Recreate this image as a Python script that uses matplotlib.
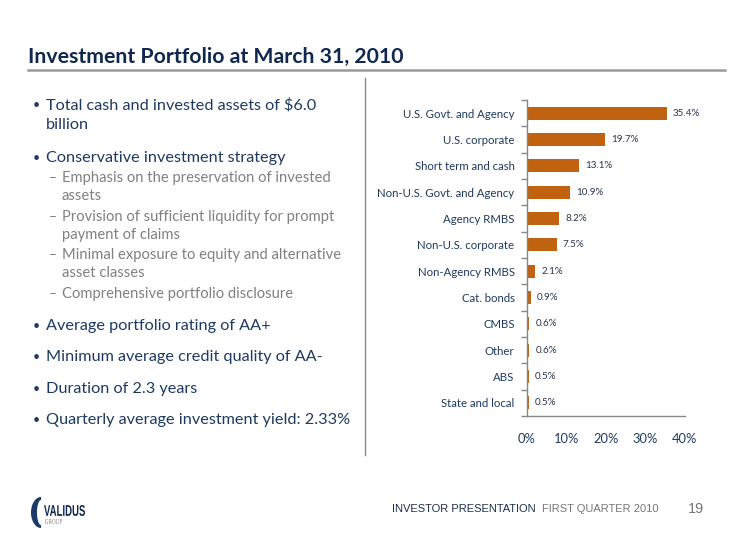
import numpy as np
import matplotlib
matplotlib.use("Agg")
import matplotlib.pyplot as plt
from matplotlib.patches import Polygon, PathPatch
from matplotlib.textpath import TextPath
from matplotlib.font_manager import FontProperties
from matplotlib.transforms import Affine2D

# chart data
categories = ["U.S. Govt. and Agency", "U.S. corporate", "Short term and cash",
              "Non-U.S. Govt. and Agency", "Agency RMBS", "Non-U.S. corporate",
              "Non-Agency RMBS", "Cat. bonds", "CMBS", "Other", "ABS", "State and local"]
shares = [35.4, 19.7, 13.1, 10.9, 8.2, 7.5, 2.1, 0.9, 0.6, 0.6, 0.5, 0.5]
x_ticks = [0, 10, 20, 30, 40]

title = "Investment Portfolio at March 31, 2010"
main_lines = [
    (105, "•", "Total cash and invested assets of $6.0"),
    (125, "", "billion"),
    (158, "•", "Conservative investment strategy"),
    (326, "•", "Average portfolio rating of AA+"),
    (357, "•", "Minimum average credit quality of AA-"),
    (389, "•", "Duration of 2.3 years"),
    (420, "•", "Quarterly average investment yield: 2.33%"),
]
sub_lines = [
    (178, "–", "Emphasis on the preservation of invested"),
    (196, "", "assets"),
    (217, "–", "Provision of sufficient liquidity for prompt"),
    (235, "", "payment of claims"),
    (255, "–", "Minimal exposure to equity and alternative"),
    (273, "", "asset classes"),
    (294, "–", "Comprehensive portfolio disclosure"),
]

W, H = 750, 538
navy = "#10284F"
text_navy = "#1F3A60"
grey = "#808080"
bar_col = "#C0620F"
font = "Lato"


def px(x, y):
    return x / W, 1 - y / H


fig = plt.figure(figsize=(W / 100, H / 100), dpi=100)
fig.patch.set_facecolor("white")
pix = Affine2D().scale(1 / W, 1 / H) + fig.transFigure

# title and rule
fig.text(*px(28, 57), title, fontsize=15.3, fontweight="bold", color=navy,
         family=font, va="center", ha="left")
fig.add_artist(plt.Line2D([28 / W, 725 / W], [1 - 70 / H] * 2, color="#9A9A9A", lw=1.8))

# vertical divider
fig.add_artist(plt.Line2D([365 / W] * 2, [1 - 78 / H, 1 - 455 / H], color="#8A8A8A", lw=1.0))

# left-hand text
for y, mark, txt in main_lines:
    if mark:
        fig.text(*px(33, y), mark, fontsize=9, color=text_navy, family=font, va="center")
    fig.text(*px(46, y), txt, fontsize=11.7, color=text_navy, family=font, va="center")
for y, mark, txt in sub_lines:
    if mark:
        fig.text(*px(49, y), mark, fontsize=10, color=grey, family=font, va="center")
    fig.text(*px(62, y), txt, fontsize=10.6, color=grey, family=font, va="center")

# bar chart
ax = fig.add_axes([527 / W, 1 - 416 / H, (685 - 527) / W, (416 - 100) / H])
y = np.arange(len(categories))
ax.barh(y, shares, height=0.5, color=bar_col)
ax.set_ylim(len(categories) - 0.5, -0.5)
ax.set_xlim(0, 40)
ax.set_yticks(y)
ax.set_yticklabels(categories, family=font, fontsize=8.2, color=text_navy)
ax.set_yticks(np.arange(len(categories) + 1) - 0.5, minor=True)
ax.tick_params(axis="y", which="major", length=0, pad=9)
ax.tick_params(axis="y", which="minor", length=4, color="#888888", width=1)
ax.set_xticks(x_ticks)
ax.set_xticklabels([f"{t}%" for t in x_ticks], family=font, fontsize=9.3, color=text_navy)
ax.tick_params(axis="x", length=0, pad=12)
for s in ["top", "right"]:
    ax.spines[s].set_visible(False)
for s in ["left", "bottom"]:
    ax.spines[s].set_color("#888888")
    ax.spines[s].set_linewidth(1)

for yi, v in zip(y, shares):
    ax.annotate(f"{v:.1f}%", (v, yi), xytext=(4.5, 0), textcoords="offset points",
                va="center", ha="left", fontsize=7.1, color="#2A3550", family=font)

# footer logo: swoosh
t = np.linspace(0, np.pi, 40)
outer = np.column_stack([41 - 10 * np.sin(t), 497 + 31 * (1 - np.cos(t)) / 2])
inner = np.column_stack([41 - 4 * np.sin(t[::-1]), 500 + 25 * (1 - np.cos(t[::-1])) / 2])
fig.add_artist(Polygon(np.vstack([outer, inner]) * [1, -1] + [0, H], closed=True,
                       transform=pix, facecolor="#1B3A6B", edgecolor="none"))


def boxed_text(s, x0, y0, x1, y1, color, family, weight="normal"):
    tp = TextPath((0, 0), s, size=10, prop=FontProperties(family=family, weight=weight))
    e = tp.get_extents()
    tr = (Affine2D().translate(-e.x0, -e.y0)
          .scale((x1 - x0) / e.width, (y1 - y0) / e.height)
          .translate(x0, H - y1)) + pix
    fig.add_artist(PathPatch(tp, transform=tr, facecolor=color, edgecolor="none"))


boxed_text("VALIDUS", 44, 505, 85, 516, navy, "Liberation Sans", "bold")
boxed_text("GROUP", 45, 519, 62, 524, grey, "Liberation Serif")

# footer text
fig.text(*px(392, 509), "INVESTOR PRESENTATION", fontsize=8, color="#1F2F4F",
         family="Liberation Sans", va="center")
fig.text(*px(542, 509), "FIRST QUARTER 2010", fontsize=8, color="#777777",
         family="Liberation Sans", va="center")
fig.text(*px(688, 509), "19", fontsize=10.5, color="#777777",
         family="Liberation Sans", va="center")

fig.savefig("out.png", dpi=100)
